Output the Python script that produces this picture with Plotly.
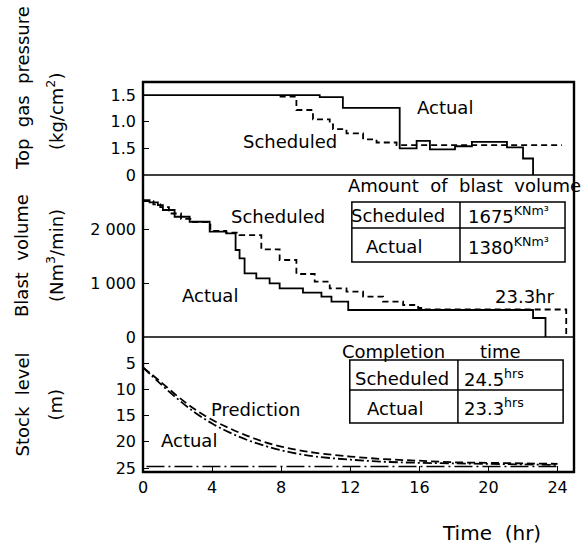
import plotly.graph_objects as go

# ---- Top gas pressure (kg/cm2), step series ----
gas_actual_t = [0, 10.23, 11.57, 14.86, 15.84, 16.61, 18.06, 19.04, 21.07, 22.0, 22.58, 22.58]
gas_actual_v = [1.5, 1.46, 1.26, 0.50, 0.64, 0.48, 0.54, 0.62, 0.52, 0.31, 0.31, 0.0]
gas_sched_t = [7.91, 8.88, 9.84, 10.81, 11.0, 11.78, 12.74, 13.52, 14.68, 24.25]
gas_sched_v = [1.47, 1.22, 1.045, 0.95, 0.86, 0.78, 0.67, 0.61, 0.56, 0.56]
gas_tickvals = [0, 0.5, 1.0, 1.5]
gas_ticktext = ["0", "1.5", "1.0", "1.5"]

# ---- Blast volume (Nm3/min), step series ----
blast_actual_t = [0, 0.38, 0.86, 1.15, 1.83, 2.7, 3.86, 4.82, 5.36, 5.59, 5.88, 6.56, 7.33,
                  7.91, 9.26, 10.33, 10.91, 11.88, 22.58, 23.3, 23.3]
blast_actual_v = [2550, 2508, 2458, 2365, 2240, 2147, 1961, 1931, 1620, 1465, 1186, 1093, 1000,
                  906, 826, 751, 658, 503, 354, 354, 0]
blast_sched_t = [0, 0.6, 1.0, 1.5, 2.2, 2.9, 3.9, 4.82, 5.59, 6.85, 7.91, 8.88, 9.94, 10.81,
                 11.78, 12.74, 13.9, 15.06, 15.93, 16.2, 24.5, 24.5]
blast_sched_v = [2530, 2470, 2420, 2300, 2200, 2140, 1975, 1945, 1899, 1633, 1434, 1173, 1030,
                 906, 844, 751, 658, 596, 540, 512, 512, 0]
blast_tickvals = [0, 1000, 2000]
blast_ticktext = ["0", "1 000", "2 000"]

# ---- Stock level (m) ----
stock_t = [0, 1, 2, 3, 4, 5, 6, 7, 8, 9, 10, 12, 14, 16, 18, 20, 22, 24]
stock_actual = [5.8, 8.9, 11.8, 14.4, 16.5, 18.2, 19.6, 20.7, 21.6, 22.3, 22.8, 23.4,
                23.8, 24.0, 24.1, 24.2, 24.3, 24.4]
stock_pred = [5.8, 8.5, 11.3, 13.8, 15.8, 17.4, 18.8, 20.0, 20.9, 21.6, 22.1, 22.8,
              23.3, 23.6, 23.9, 24.0, 24.1, 24.2]
final_level_t = [0.2, 24.1]
final_level = [24.7, 24.7]
stock_tickvals = [5, 10, 15, 20, 25]

time_ticks = [0, 4, 8, 12, 16, 20, 24]

# ---- Summary tables ----
blast_rows = ["Scheduled", "Actual"]
blast_amount = ["1675", "1380"]
completion_rows = ["Scheduled", "Actual"]
completion_hrs = ["24.5", "23.3"]

FONT = "DejaVu Sans"
BLACK = "black"
LW = 1.8

fig = go.Figure()

fig.add_trace(go.Scatter(x=gas_actual_t, y=gas_actual_v, mode="lines", line_shape="hv",
                         line=dict(color=BLACK, width=LW), xaxis="x", yaxis="y3"))
fig.add_trace(go.Scatter(x=gas_sched_t, y=gas_sched_v, mode="lines", line_shape="hv",
                         line=dict(color=BLACK, width=LW, dash="6px,4px"), xaxis="x", yaxis="y3"))

fig.add_trace(go.Scatter(x=blast_actual_t, y=blast_actual_v, mode="lines", line_shape="hv",
                         line=dict(color=BLACK, width=LW), xaxis="x", yaxis="y2"))
fig.add_trace(go.Scatter(x=blast_sched_t, y=blast_sched_v, mode="lines", line_shape="hv",
                         line=dict(color=BLACK, width=LW, dash="6px,4px"), xaxis="x", yaxis="y2"))

fig.add_trace(go.Scatter(x=stock_t, y=stock_actual, mode="lines", line_shape="spline",
                         line=dict(color=BLACK, width=LW, dash="9px,3px,2px,3px"), xaxis="x", yaxis="y"))
fig.add_trace(go.Scatter(x=stock_t, y=stock_pred, mode="lines", line_shape="spline",
                         line=dict(color=BLACK, width=LW, dash="8px,4px"), xaxis="x", yaxis="y"))
fig.add_trace(go.Scatter(x=final_level_t, y=final_level, mode="lines",
                         line=dict(color=BLACK, width=1.4, dash="18px,4px,2px,4px"), xaxis="x", yaxis="y"))

# panel domains (bottom to top)
d_stock = [0, 0.3462]
d_blast = [0.3462, 0.7615]
d_gas = [0.7615, 1.0]

tickfont = dict(family=FONT, size=16, color=BLACK)
yax_common = dict(showgrid=False, zeroline=False, showline=False, ticks="inside", ticklen=6,
                  tickwidth=1.3, tickcolor=BLACK, tickfont=tickfont, ticklabelstandoff=6,
                  anchor="x", fixedrange=True)

fig.update_layout(
    width=584, height=544,
    margin=dict(l=143, r=10, t=82, b=72),
    paper_bgcolor="white", plot_bgcolor="white",
    showlegend=False,
    font=dict(family=FONT, size=18, color=BLACK),
    xaxis=dict(range=[0, 24.95], tickvals=time_ticks, ticktext=[str(v) for v in time_ticks],
               showgrid=False, zeroline=False, showline=False, ticks="inside", ticklen=6,
               tickwidth=1.3, tickcolor=BLACK, tickfont=tickfont, ticklabelstandoff=4,
               anchor="y", fixedrange=True),
    yaxis=dict(domain=d_stock, range=[25.75, 0], tickvals=stock_tickvals,
               ticktext=[str(v) for v in stock_tickvals], **yax_common),
    yaxis2=dict(domain=d_blast, range=[0, 3017], tickvals=blast_tickvals,
                ticktext=blast_ticktext, **yax_common),
    yaxis3=dict(domain=d_gas, range=[0, 1.745], tickvals=gas_tickvals,
                ticktext=gas_ticktext, **yax_common),
)

shapes = []
# outer frame and panel separators
shapes.append(dict(type="rect", xref="paper", yref="paper", x0=0, x1=1, y0=0, y1=1,
                   line=dict(color=BLACK, width=2.4)))
for yb in (d_stock[1], d_blast[1]):
    shapes.append(dict(type="line", xref="paper", yref="paper", x0=0, x1=1, y0=yb, y1=yb,
                       line=dict(color=BLACK, width=1.6)))

# blast volume table (data coordinates of the middle panel)
bx0, bx1, bxm = 12.09, 24.43, 18.35
by0, by1, bym = 1397, 2514, 2030
shapes.append(dict(type="rect", xref="x", yref="y2", x0=bx0, x1=bx1, y0=by0, y1=by1,
                   line=dict(color=BLACK, width=1.5)))
shapes.append(dict(type="line", xref="x", yref="y2", x0=bx0, x1=bx1, y0=bym, y1=bym,
                   line=dict(color=BLACK, width=1.5)))
shapes.append(dict(type="line", xref="x", yref="y2", x0=bxm, x1=bxm, y0=by0, y1=by1,
                   line=dict(color=BLACK, width=1.5)))

# completion time table (data coordinates of the bottom panel)
cx0, cx1, cxm = 11.97, 24.32, 18.23
cy0, cy1, cym = 4.39, 16.4, 10.1
shapes.append(dict(type="rect", xref="x", yref="y", x0=cx0, x1=cx1, y0=cy0, y1=cy1,
                   line=dict(color=BLACK, width=1.5)))
shapes.append(dict(type="line", xref="x", yref="y", x0=cx0, x1=cx1, y0=cym, y1=cym,
                   line=dict(color=BLACK, width=1.5)))
shapes.append(dict(type="line", xref="x", yref="y", x0=cxm, x1=cxm, y0=cy0, y1=cy1,
                   line=dict(color=BLACK, width=1.5)))
fig.update_layout(shapes=shapes)

ann = []


def label(text, x, y, yref, size=18, xanchor="center"):
    ann.append(dict(text=text, x=x, y=y, xref="x", yref=yref, showarrow=False,
                    xanchor=xanchor, yanchor="middle", font=dict(family=FONT, size=size, color=BLACK)))


# top panel
label("Actual", 17.48, 1.276, "y3")
label("Scheduled", 8.49, 0.625, "y3")

# middle panel
label("Scheduled", 7.8, 2240, "y2")
label("Actual", 3.9, 782, "y2")
label("Amount\u00a0 of\u00a0 blast\u00a0 volume", 11.75, 2830, "y2", xanchor="left")
label(blast_rows[0], 14.78, 2270, "y2")
label(blast_rows[1], 14.55, 1690, "y2")
for v, yv in zip(blast_amount, (2270, 1690)):
    label(v + "<sup>KNm\u00b3</sup>", 18.7, yv, "y2", xanchor="left")
label("23.3hr", 22.1, 745, "y2")

# bottom panel
label("Completion", 11.39, 2.8, "y", xanchor="left")
label("time", 20.7, 2.8, "y")
label(completion_rows[0], 14.99, 7.9, "y")
label(completion_rows[1], 14.58, 13.6, "y")
for v, yv in zip(completion_hrs, (7.9, 13.4)):
    label(v + "<sup>hrs</sup>", 18.45, yv, "y", xanchor="left")
label("Prediction", 6.52, 13.9, "y")
label("Actual", 2.64, 19.7, "y")


# y-axis titles, two rotated lines per panel
def ytitle(text, panel, xshift, yshift=0, at_top=False):
    yv = panel[1] if at_top else (panel[0] + panel[1]) / 2
    ann.append(dict(text=text, x=0, y=yv, xref="paper", yref="paper",
                    xshift=xshift, yshift=yshift, showarrow=False, textangle=-90,
                    xanchor="center", yanchor="middle",
                    font=dict(family=FONT, size=18, color=BLACK)))


ytitle("Top\u00a0 gas\u00a0 pressure", d_gas, -121, yshift=-6, at_top=True)
ytitle("(kg/cm<sup>2</sup>)", d_gas, -88, yshift=-30, at_top=True)
ytitle("Blast\u00a0 volume", d_blast, -121)
ytitle("(Nm<sup>3</sup>/min)", d_blast, -88)
ytitle("Stock\u00a0 level", d_stock, -121)
ytitle("(m)", d_stock, -88)

ann.append(dict(text="Time\u00a0 (hr)", x=(491 - 143) / 431, y=0, xref="paper", yref="paper",
                yshift=-61, showarrow=False, xanchor="center", yanchor="middle",
                font=dict(family=FONT, size=20, color=BLACK)))

fig.update_layout(annotations=ann)

fig.write_html("out.html")
